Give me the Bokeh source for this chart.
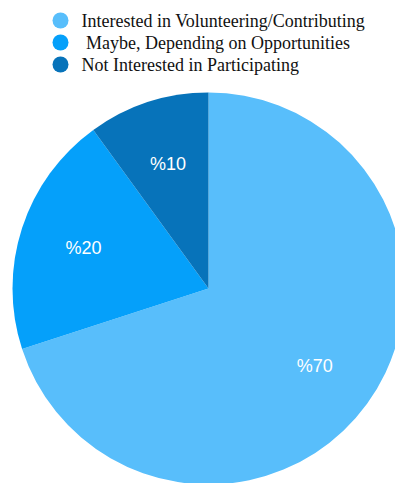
import numpy as np
from bokeh.plotting import figure
from bokeh.models import ColumnDataSource
from bokeh.core.properties import value
from bokeh.embed import file_html
from bokeh.resources import INLINE

categories = ["Interested in Volunteering/Contributing",
              "\u00a0Maybe, Depending on Opportunities",
              "Not Interested in Participating"]
shares = [70, 20, 10]
labels = ["%70", "%20", "%10"]
colors = ["#58BEFB", "#05A0FA", "#0773BA"]

W, H = 395, 483
cx, cy, R = 208, 195, 196

vals = np.array(shares, dtype=float)
fr = vals / vals.sum()
ends = np.cumsum(fr)
starts = ends - fr
start_ang = np.pi / 2 - starts * 2 * np.pi
end_ang = np.pi / 2 - ends * 2 * np.pi
mid = (start_ang + end_ang) / 2

src = ColumnDataSource(dict(
    start=start_ang, end=end_ang, color=colors,
    lx=cx + 0.67 * R * np.cos(mid), ly=cy + 0.67 * R * np.sin(mid),
    label=labels,
))

p = figure(width=W, height=H, x_range=(0, W), y_range=(0, H),
           output_backend="svg", toolbar_location=None,
           x_axis_location=None, y_axis_location=None,
           min_border=0, outline_line_color=None)
p.grid.visible = False
p.background_fill_color = "white"

p.wedge(x=cx, y=cy, radius=R, start_angle="start", end_angle="end",
        direction="clock", fill_color="color", line_color=None, source=src)
p.text(x="lx", y="ly", text="label", source=src, text_color="white",
       text_font=value("Liberation Sans"), text_font_size="18px",
       text_align="center", text_baseline="middle")

leg_y = [H - 20, H - 42, H - 64]
lsrc = ColumnDataSource(dict(x=[60] * 3, y=leg_y, color=colors,
                             tx=[81] * 3, label=categories))
p.scatter(x="x", y="y", size=16, fill_color="color", line_color=None, source=lsrc)
p.text(x="tx", y="y", text="label", source=lsrc, text_color="#111111",
       text_font=value("Liberation Serif"), text_font_size="18px",
       text_align="left", text_baseline="middle")

open("out.html", "w").write(file_html(p, INLINE))
